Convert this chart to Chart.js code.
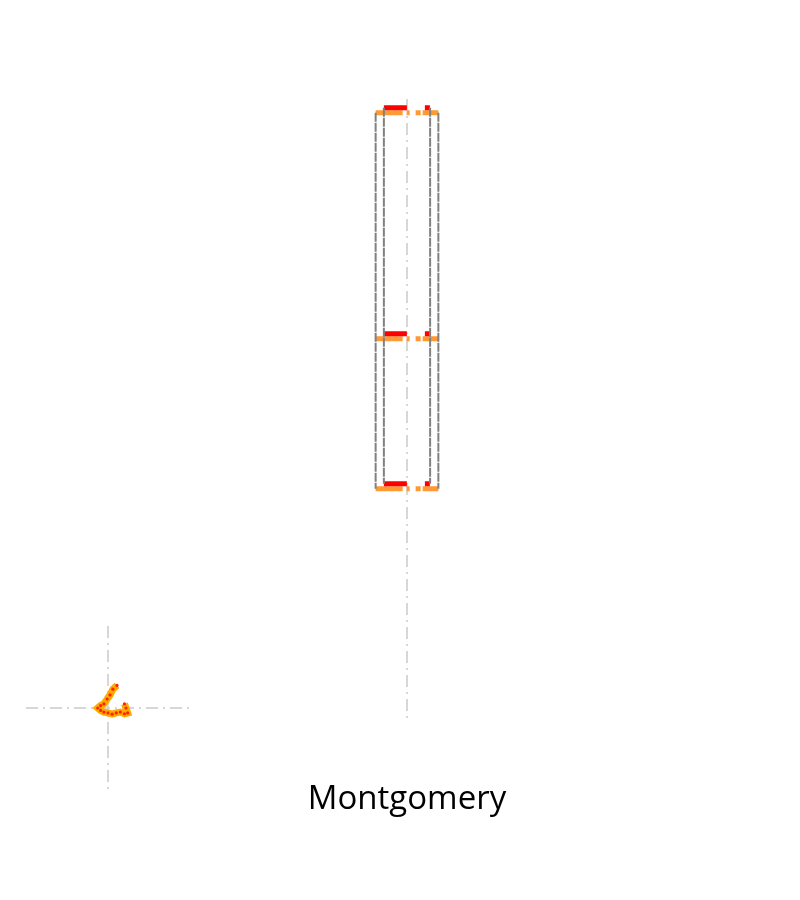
<!DOCTYPE html>
<html>
<head>
<meta charset="utf-8">
<script src="https://cdn.jsdelivr.net/npm/chart.js@4"></script>
<style>
  html, body { margin: 0; padding: 0; background: #fff; }
  #wrap { position: relative; width: 800px; height: 900px; }
  #main { position: absolute; left: 0; top: 0; }
  #inset { position: absolute; left: 22px; top: 622px; }
</style>
</head>
<body>
<div id="wrap">
  <canvas id="main" width="800" height="900"></canvas>
  <canvas id="inset" width="172" height="172"></canvas>
</div>
<script>
// ---- data ----
const categories = ['Montgomery'];
const seriesNames = ['Series A', 'Series B'];
const topValues = [97.8, 98.6];
const medianValues = [61.6, 62.4];
const bottomValues = [37.6, 38.4];
// inset sketch points
const insetX = [0.11, 0.06, 0.025, -0.01, -0.05, -0.09, -0.125, -0.09, -0.05, 0.0, 0.05, 0.1, 0.15, 0.2, 0.24, 0.22, 0.2];
const insetY = [0.275, 0.23, 0.16, 0.11, 0.05, 0.03, 0.0, -0.03, -0.05, -0.06, -0.075, -0.06, -0.05, -0.07, -0.06, 0.0, 0.05];

// ---- styles ----
const style = {
  halfWidths: [0.08, 0.059],
  lineColors: ['#FF9933', '#FF0000'],
  lineDash: [[27, 4, 3, 6, 5, 2], [23, 18, 5, 60]],
  sideColor: '#808080',
  gridColor: 'rgba(205,205,205,0.8)',
  gridDash: [12, 5, 2, 5]
};

const GAP = {x: 0, y: null};
const datasets = [];
// gray dashed box sides (on top)
seriesNames.forEach((name, i) => {
  const w = style.halfWidths[i];
  datasets.push({
    label: name + ' sides',
    data: [{x: -w, y: topValues[i]}, {x: -w, y: bottomValues[i]}, GAP,
           {x: w, y: topValues[i]}, {x: w, y: bottomValues[i]}],
    borderColor: style.sideColor, borderWidth: 2, borderDash: [9, 1],
    pointRadius: 0, spanGaps: false, order: 0
  });
});
// horizontal lines (top / median / bottom)
seriesNames.forEach((name, i) => {
  const w = style.halfWidths[i];
  const pts = [];
  [topValues[i], medianValues[i], bottomValues[i]].forEach((v, k) => {
    if (k > 0) pts.push(GAP);
    pts.push({x: -w, y: v}, {x: w, y: v});
  });
  datasets.push({
    label: name,
    data: pts,
    borderColor: style.lineColors[i], borderWidth: 5, borderDash: style.lineDash[i],
    borderCapStyle: 'butt',
    pointRadius: 0, spanGaps: false, order: 2 - i
  });
});

new Chart(document.getElementById('main'), {
  type: 'line',
  data: { datasets },
  options: {
    responsive: false, animation: false,
    layout: { padding: { top: 99, left: 15, right: 1, bottom: 25 } },
    plugins: { legend: { display: false }, tooltip: { enabled: false } },
    scales: {
      x: {
        type: 'linear', min: -1, max: 1, z: 1,
        afterBuildTicks: (axis) => { axis.ticks = [{value: 0}]; },
        ticks: {
          callback: () => categories[0],
          font: { family: 'Open Sans', size: 33 },
          color: '#000', padding: 56, maxRotation: 0, autoSkip: false
        },
        grid: { color: style.gridColor, lineWidth: 2, drawTicks: false },
        border: { display: false, dash: style.gridDash }
      },
      y: { type: 'linear', min: 0, max: 100, display: false }
    }
  }
});

// small inset sketch
new Chart(document.getElementById('inset'), {
  type: 'line',
  data: {
    datasets: [{
      data: insetX.map((x, i) => ({x, y: insetY[i]})),
      borderColor: '#FFAA00', borderWidth: 7, borderJoinStyle: 'miter',
      pointRadius: 1.6, pointBackgroundColor: '#FF2200', pointBorderWidth: 0
    }]
  },
  options: {
    responsive: false, animation: false,
    layout: { padding: 0 },
    plugins: { legend: { display: false }, tooltip: { enabled: false } },
    scales: {
      x: {
        type: 'linear', min: -1, max: 1,
        afterBuildTicks: (axis) => { axis.ticks = [{value: 0}]; },
        ticks: { display: false },
        grid: { color: style.gridColor, lineWidth: 2, drawTicks: false },
        border: { display: false, dash: style.gridDash }
      },
      y: {
        type: 'linear', min: -1, max: 1,
        afterBuildTicks: (axis) => { axis.ticks = [{value: 0}]; },
        ticks: { display: false },
        grid: { color: style.gridColor, lineWidth: 2, drawTicks: false },
        border: { display: false, dash: style.gridDash }
      }
    }
  }
});
</script>
</body>
</html>
